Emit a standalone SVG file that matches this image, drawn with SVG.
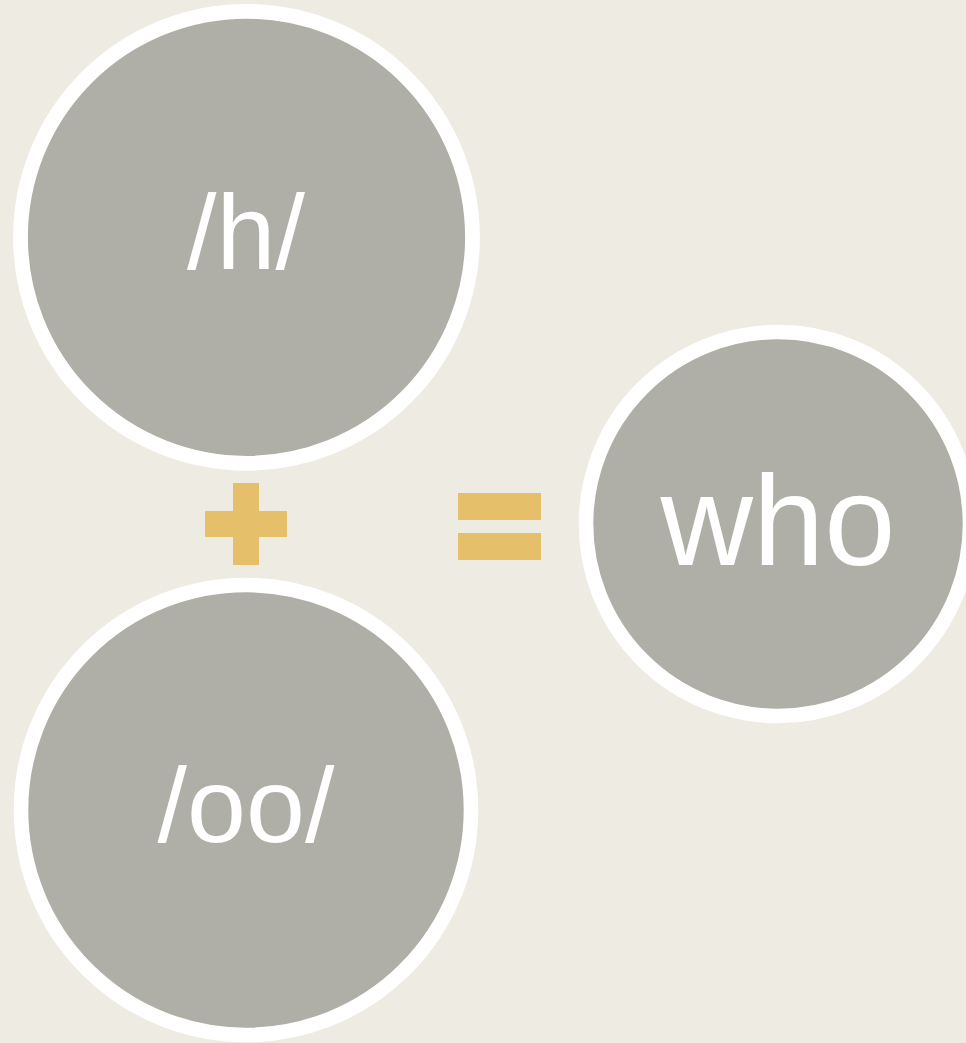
<svg xmlns="http://www.w3.org/2000/svg" width="966" height="1043" viewBox="0 0 966 1043">
  <style>
    .bubble { fill: #AFAFA7; stroke: #FFFFFF; }
    .label { fill: #FFFFFF; font-family: "Liberation Sans", Arial, sans-serif; text-anchor: middle; }
    .op { fill: #E5BF6A; }
  </style>
  <rect x="0" y="0" width="966" height="1043" fill="#EEEBE3"/>

  <!-- phoneme /h/ -->
  <g id="node-h">
    <circle class="bubble" cx="246.5" cy="237.3" r="226" stroke-width="14.8"/>
    <text class="label" x="246" y="269" font-size="106">/h/</text>
  </g>

  <!-- phoneme /oo/ -->
  <g id="node-oo">
    <circle class="bubble" cx="246" cy="810" r="225" stroke-width="14.6"/>
    <text class="label" x="246" y="842" font-size="106">/oo/</text>
  </g>

  <!-- blended word -->
  <g id="node-who">
    <circle class="bubble" cx="778" cy="524" r="192" stroke-width="14.6"/>
    <text class="label" x="778" y="565" font-size="128">who</text>
  </g>

  <!-- plus and equals signs between the bubbles -->
  <g id="operators">
    <g id="plus">
      <rect class="op" x="233" y="483" width="26" height="82"/>
      <rect class="op" x="205" y="511" width="82" height="26"/>
    </g>
    <g id="equals">
      <rect class="op" x="458" y="493" width="83" height="27"/>
      <rect class="op" x="458" y="533" width="83" height="27"/>
    </g>
  </g>
</svg>
